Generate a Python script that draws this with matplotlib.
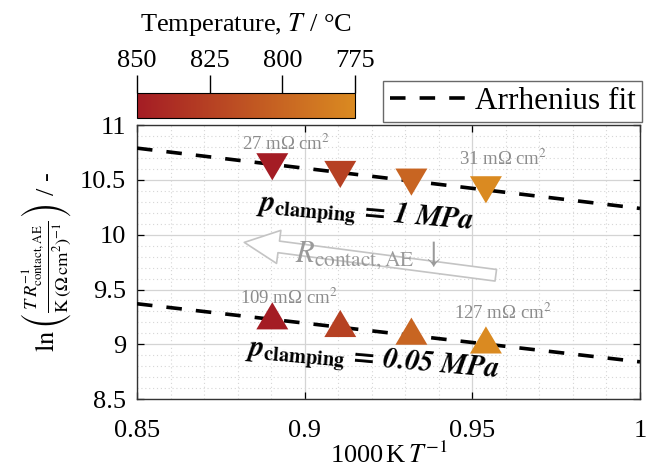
import numpy as np
import matplotlib
matplotlib.use('Agg')
import matplotlib.pyplot as plt
from matplotlib.colors import LinearSegmentedColormap, Normalize
from matplotlib.path import Path
from matplotlib.lines import Line2D
from matplotlib.ticker import MultipleLocator, FormatStrFormatter

plt.rcParams['font.family'] = ['Liberation Serif', 'DejaVu Serif']
plt.rcParams['mathtext.fontset'] = 'stix'

# data
temps_C = [850, 825, 800, 775]
inv_T = [1000.0 / (t + 273.15) for t in temps_C]
ln_high = [10.62, 10.55, 10.48, 10.41]   # p_clamping = 1 MPa
ln_low = [9.26, 9.19, 9.12, 9.04]        # p_clamping = 0.05 MPa
# Arrhenius fits (slope, intercept) as drawn
fit_high = (-3.667, 13.907)
fit_low = (-3.533, 12.373)
labels_high = ['27 m\u03a9 cm$^2$', '31 m\u03a9 cm$^2$']
labels_low = ['109 m\u03a9 cm$^2$', '127 m\u03a9 cm$^2$']
cbar_ticks = [850, 825, 800, 775]

cmap = LinearSegmentedColormap.from_list('temp', ['#da8a21', '#a41c24'])
norm = Normalize(vmin=775, vmax=850)

fig = plt.figure(figsize=(6.48, 4.74), dpi=100)
ax = fig.add_axes([0.2114, 0.158, 0.7762, 0.578])
cax = fig.add_axes([0.2114, 0.751, 0.3364, 0.053])

# grid
ax.xaxis.set_major_locator(MultipleLocator(0.05))
ax.xaxis.set_minor_locator(MultipleLocator(0.01))
ax.yaxis.set_major_locator(MultipleLocator(0.5))
ax.yaxis.set_minor_locator(MultipleLocator(0.1))
ax.xaxis.set_major_formatter(FormatStrFormatter('%g'))
ax.yaxis.set_major_formatter(FormatStrFormatter('%g'))
ax.grid(which='major', color='#d4d4d4', lw=0.9, ls='-')
ax.grid(which='minor', color='#d6d6d6', lw=0.8, ls=(0, (1, 2.5)))
ax.set_axisbelow(True)
ax.tick_params(which='major', direction='in', length=5, width=0.9,
               top=True, right=True, labelsize=19, pad=8)
ax.tick_params(axis='x', which='major', pad=15)
ax.tick_params(which='minor', length=0)
for s in ax.spines.values():
    s.set_color('#333333')
    s.set_linewidth(1.0)

ax.set_xlim(0.85, 1.0)
ax.set_ylim(8.5, 11)

# fit lines
xf = np.array([0.85, 1.0])
for m, b in (fit_high, fit_low):
    ax.plot(xf, m * xf + b, color='black', lw=2.6, dashes=(4.3, 3.9), zorder=3)

# markers
tri_down = Path([(-1, 0.85), (1, 0.85), (0, -0.85), (-1, 0.85)])
tri_up = Path([(-1, -0.85), (1, -0.85), (0, 0.85), (-1, -0.85)])
sc = ax.scatter(inv_T, ln_high, c=temps_C, cmap=cmap, norm=norm, marker=tri_down,
                s=23 ** 2, linewidths=0, zorder=4)
ax.scatter(inv_T, ln_low, c=temps_C, cmap=cmap, norm=norm, marker=tri_up,
           s=23 ** 2, linewidths=0, zorder=4)

# resistance annotations
gray = '#8c8c8c'
ax.text(inv_T[0] + 0.004, ln_high[0] + 0.21, labels_high[0], color=gray, fontsize=13.5,
        ha='center', va='center', zorder=5)
ax.text(inv_T[-1] + 0.005, ln_high[-1] + 0.28, labels_high[1], color=gray, fontsize=13.5,
        ha='center', va='center', zorder=5)
ax.text(inv_T[0] + 0.005, ln_low[0] + 0.16, labels_low[0], color=gray, fontsize=13.5,
        ha='center', va='center', zorder=5)
ax.text(inv_T[-1] + 0.005, ln_low[-1] + 0.25, labels_low[1], color=gray, fontsize=13.5,
        ha='center', va='center', zorder=5)

# pressure labels
ax.text(0.918, 10.20, r'$\mathbfit{p}_{\mathbf{clamping}}\,\mathbf{=}\,\mathbfit{1\ MPa}$',
        fontsize=21, ha='center', va='center', rotation=-5, zorder=6)
ax.text(0.920, 8.85, r'$\mathbfit{p}_{\mathbf{clamping}}\,\mathbf{=}\,\mathbfit{0.05\ MPa}$',
        fontsize=21, ha='center', va='center', rotation=-5, zorder=6)

# hollow arrow
ax.annotate('', xy=(0.882, 9.93), xytext=(0.957, 9.63),
            arrowprops=dict(arrowstyle='simple,head_length=1.25,head_width=1.2,tail_width=0.42',
                            fc='white', ec='#c4c4c4', lw=1.2, mutation_scale=20,
                            shrinkA=0, shrinkB=0), zorder=2)
ax.text(0.919, 9.81, r'$R_{\mathrm{contact,AE}}$ $\downarrow$', color='#9a9a9a',
        fontsize=22, ha='center', va='center', zorder=5)

ax.set_xlabel(r'1000$\,$K$\,T^{-1}$', fontsize=19, labelpad=0)
ax.set_ylabel(r'$\ln\left(\frac{T\,R_{\mathrm{contact,AE}}^{-1}}{\mathrm{K}\,(\Omega\,\mathrm{cm}^2)^{-1}}\right)$ / -',
              fontsize=19, labelpad=4)

# legend
handle = Line2D([], [], color='black', lw=2.6, dashes=(4.3, 3.9))
leg = ax.legend([handle], ['Arrhenius fit'], loc='lower right',
                bbox_to_anchor=(1.005, 1.01), fontsize=22.5, handlelength=2.4,
                frameon=True, fancybox=False, borderpad=0.2, handletextpad=0.35,
                borderaxespad=0)
leg.get_frame().set_edgecolor('#444444')
leg.get_frame().set_linewidth(1.0)

# colorbar
cb = fig.colorbar(sc, cax=cax, orientation='horizontal')
cax.invert_xaxis()
cb.set_ticks(cbar_ticks)
cax.xaxis.set_ticks_position('top')
cax.xaxis.set_label_position('top')
cax.tick_params(direction='out', length=13, width=1.0, labelsize=19, pad=2)
cb.outline.set_linewidth(0.8)
cb.set_label('Temperature, $T$ / \u00b0C', fontsize=19, labelpad=14)

fig.savefig('out.png', dpi=100)
